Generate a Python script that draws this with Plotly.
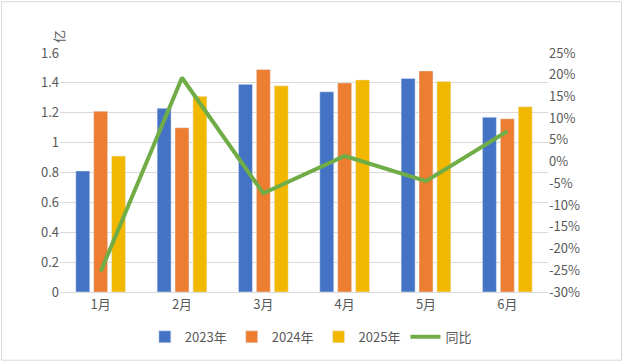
import plotly.graph_objects as go

months = ["1月", "2月", "3月", "4月", "5月", "6月"]
v2023 = [0.81, 1.23, 1.39, 1.34, 1.43, 1.17]
v2024 = [1.21, 1.10, 1.49, 1.40, 1.48, 1.16]
v2025 = [0.91, 1.31, 1.38, 1.42, 1.41, 1.24]
yoy = [-25.3, 19.3, -7.3, 1.3, -4.5, 7.0]  # percent
right_ticks = [-30, -25, -20, -15, -10, -5, 0, 5, 10, 15, 20, 25]
left_ticks = [0, 0.2, 0.4, 0.6, 0.8, 1, 1.2, 1.4, 1.6]

FONT = "Noto Sans CJK SC, Noto Sans, sans-serif"
GRAY = "#595959"

fig = go.Figure()
fig.add_trace(go.Bar(x=months, y=v2023, name="2023年", marker_color="#4472C4"))
fig.add_trace(go.Bar(x=months, y=v2024, name="2024年", marker_color="#ED7D31"))
fig.add_trace(go.Bar(x=months, y=v2025, name="2025年", marker_color="#F2B800"))
fig.add_trace(go.Scatter(x=months, y=[v / 100 for v in yoy], name="同比", yaxis="y2",
                         mode="lines", line=dict(color="#70AD47", width=4)))

fig.update_layout(
    width=623, height=363,
    margin=dict(l=60, r=75, t=53, b=70),
    paper_bgcolor="white", plot_bgcolor="white",
    font=dict(family=FONT, size=13, color=GRAY),
    barmode="group", bargap=0.34, bargroupgap=0.22,
    showlegend=True,
    legend=dict(orientation="h", x=0.514, xanchor="center", y=-0.183, yanchor="middle",
                font=dict(size=13, color=GRAY), itemwidth=30, traceorder="normal"),
    xaxis=dict(showgrid=False, showline=True, linecolor="#D9D9D9", linewidth=1,
               ticks="", tickfont=dict(size=13, color=GRAY)),
    yaxis=dict(range=[0, 1.6], tickvals=left_ticks, ticktext=[str(t) for t in left_ticks],
               showgrid=True, gridcolor="#D9D9D9", gridwidth=1, zeroline=False,
               showline=False, ticks="", tickfont=dict(size=13, color=GRAY)),
    yaxis2=dict(overlaying="y", side="right", range=[-0.30, 0.25],
                tickvals=[t / 100 for t in right_ticks], ticktext=[f"{t}%" for t in right_ticks],
                showgrid=False, zeroline=False, showline=False, ticks="",
                tickfont=dict(size=13, color=GRAY)),
    annotations=[dict(text="亿", xref="paper", yref="paper",
                      x=(47 - 60) / 488, y=(293 - 28) / 240, showarrow=False,
                      textangle=-90, font=dict(size=13, color=GRAY))],
    shapes=[dict(type="rect", xref="paper", yref="paper",
                 x0=(1.5 - 60) / 488, x1=(621.5 - 60) / 488,
                 y0=(293 - 361.5) / 240, y1=(293 - 1.5) / 240,
                 line=dict(color="#D9D9D9", width=1), layer="below")],
)

fig.write_html("out.html", config={"displayModeBar": False},
               post_script="document.body.style.margin='0';document.body.style.overflow='hidden';")
